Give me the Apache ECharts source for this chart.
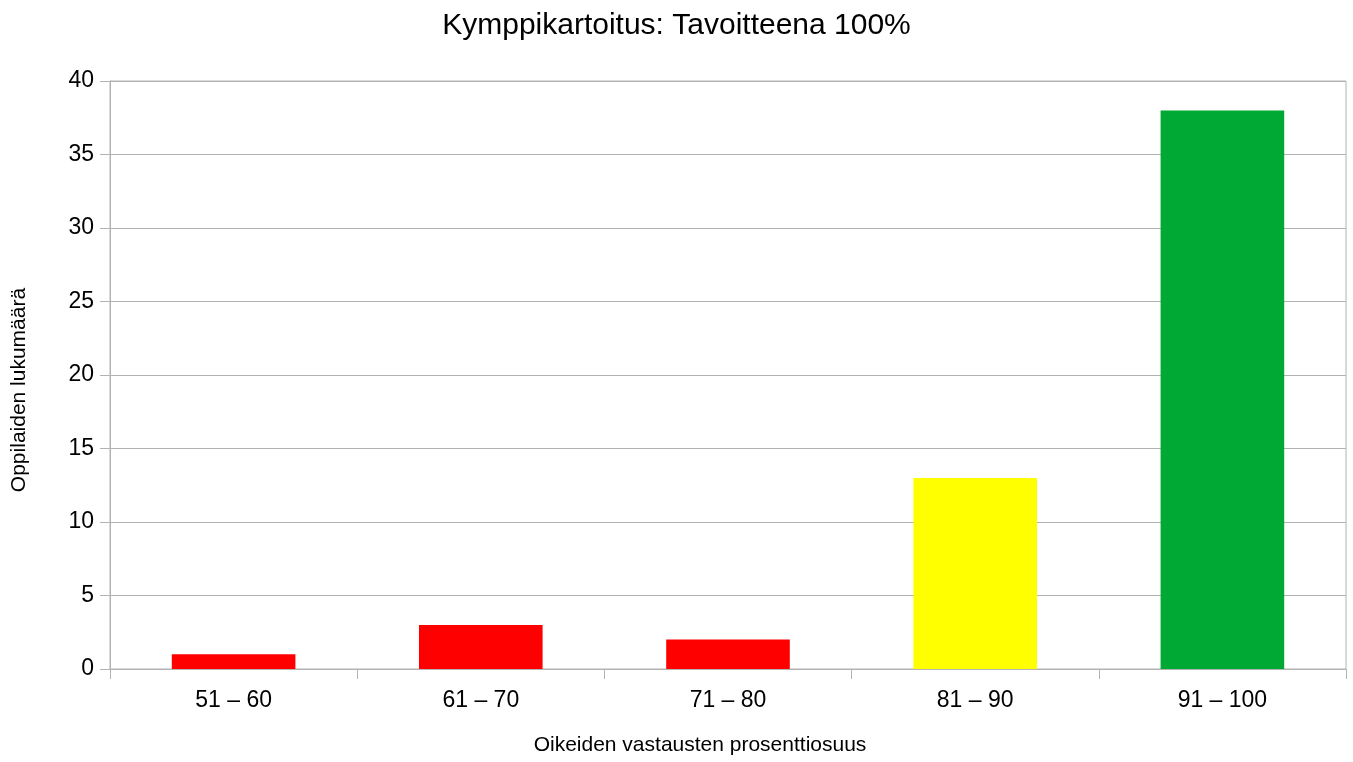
<!DOCTYPE html>
<html>
<head>
<meta charset="utf-8">
<script src="https://cdn.jsdelivr.net/npm/echarts@6/dist/echarts.min.js"></script>
<style>
html,body{margin:0;padding:0;background:#fff;}
#chart{width:1353px;height:762px;}
</style>
</head>
<body>
<div id="chart"></div>
<script>
var titleText = 'Kymppikartoitus: Tavoitteena 100%';
var categories = ['51 – 60', '61 – 70', '71 – 80', '81 – 90', '91 – 100'];
var values = [1, 3, 2, 13, 38];
var barColors = ['#ff0000', '#ff0000', '#ff0000', '#ffff00', '#00a933'];
var xName = 'Oikeiden vastausten prosenttiosuus';
var yName = 'Oppilaiden lukumäärä';

var chart = echarts.init(document.getElementById('chart'), null, {renderer: 'canvas'});
var font = 'Liberation Sans, Arial, sans-serif';
var gridColor = '#b3b3b3';
chart.setOption({
  animation: false,
  backgroundColor: '#ffffff',
  title: {
    text: titleText,
    left: 'center',
    top: 6,
    textStyle: {fontFamily: font, fontSize: 30, fontWeight: 'normal', color: '#000'}
  },
  grid: {
    left: 110, right: 7, top: 81, bottom: 93,
    show: true, borderColor: gridColor, borderWidth: 1, backgroundColor: 'transparent'
  },
  xAxis: {
    type: 'category',
    data: categories,
    name: xName,
    nameLocation: 'middle',
    nameGap: 66,
    nameTextStyle: {fontFamily: font, fontSize: 21, color: '#000', padding: [0, 56, 0, 0]},
    axisLine: {show: true, lineStyle: {color: gridColor, width: 1}},
    axisTick: {show: true, length: 10, alignWithLabel: false, lineStyle: {color: gridColor}},
    axisLabel: {fontFamily: font, fontSize: 23, color: '#000', margin: 20},
    splitLine: {show: false}
  },
  yAxis: {
    type: 'value',
    min: 0, max: 40, interval: 5,
    name: yName,
    nameLocation: 'middle',
    nameGap: 80,
    nameTextStyle: {fontFamily: font, fontSize: 21, color: '#000', padding: [0, 30, 0, 0]},
    axisLine: {show: true, lineStyle: {color: gridColor, width: 1}},
    axisTick: {show: true, length: 10, lineStyle: {color: gridColor}},
    axisLabel: {fontFamily: font, fontSize: 23, color: '#000', margin: 16},
    splitLine: {show: true, lineStyle: {color: gridColor, width: 1}}
  },
  series: [{
    type: 'bar',
    data: values.map(function (v, i) { return {value: v, itemStyle: {color: barColors[i]}}; }),
    barCategoryGap: '50%'
  }]
});
</script>
</body>
</html>
